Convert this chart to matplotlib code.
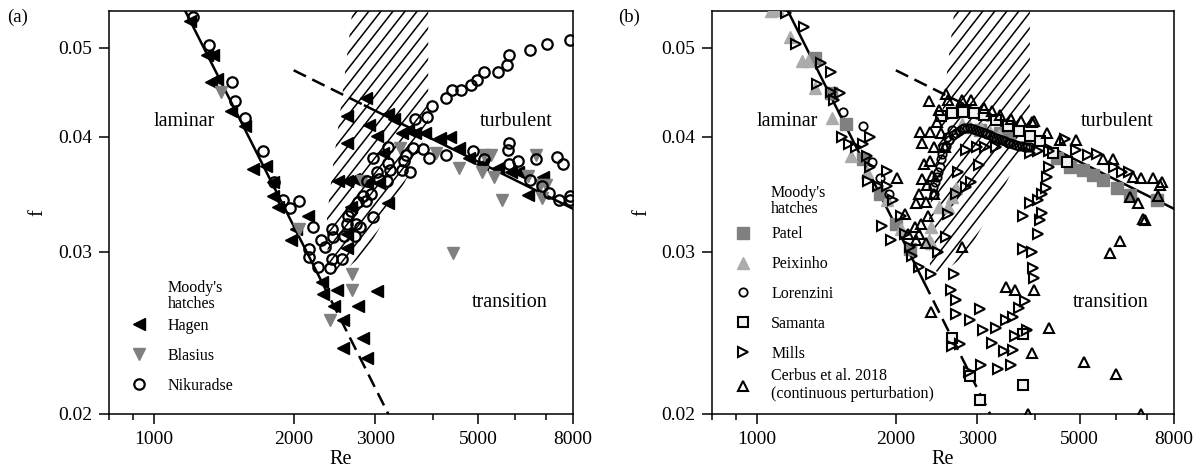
import numpy as np
import matplotlib.pyplot as plt
from matplotlib.patches import Polygon
from matplotlib.ticker import FixedLocator, FixedFormatter, NullFormatter, NullLocator

plt.rcParams['font.family'] = ['Liberation Serif', 'DejaVu Serif']

# ---- reference lines (laminar 64/Re and Blasius), end points only ----
lam_solid_re = [1100, 2300]
lam_solid_f = [0.05818, 0.02783]
lam_dash_re = [2300, 3300]
lam_dash_f = [0.02783, 0.01939]
bla_dash_re = [2000, 2850]
bla_dash_f = [0.04725, 0.04325]
bla_solid_re = [2850, 8200]
bla_solid_f = [0.04325, 0.03321]

# Moody's hatched region outline
hatch_re = [2690, 3900, 3900, 3650, 3300, 2850, 2500, 2370, 2360, 2430, 2540, 2690]
hatch_f = [0.0560, 0.0560, 0.0410, 0.0375, 0.0340, 0.0299, 0.0283, 0.0290, 0.0327, 0.0371, 0.0439, 0.0560]

# ---- panel (a) ----
hagen_re = [1198, 1300, 1340, 1324, 1365, 1465, 1571, 1632, 1744, 1802, 1802, 1847, 1973,
            2023, 2149, 2297, 2310, 2440, 2479, 2559, 2752, 2559, 2819, 2873, 3025,
            2600, 2600, 2858, 2488, 2600, 2700, 2664, 2600, 2600, 2912, 3025, 3112, 3200,
            3296, 3422, 3523, 3660, 3836, 3200, 3052, 2885,
            4139, 4340, 4550, 4772, 5100, 5502, 5880, 6100, 6400, 6910]
hagen_f = [0.0535, 0.0491, 0.0491, 0.0459, 0.0462, 0.0427, 0.0411, 0.0369, 0.0372, 0.0357,
           0.0345, 0.0336, 0.0309, 0.0318, 0.0328, 0.0278, 0.0270, 0.0262, 0.0273, 0.0253,
           0.0262, 0.0236, 0.0242, 0.0230, 0.0272,
           0.0421, 0.0394, 0.0441, 0.0358, 0.0358, 0.0360, 0.0336, 0.0314, 0.0303, 0.0412,
           0.0401, 0.0384, 0.0424, 0.0418, 0.0404, 0.0407, 0.0404, 0.0404, 0.0339, 0.0356,
           0.0356,
           0.0399, 0.0400, 0.0389, 0.0379, 0.0374, 0.0370, 0.0366, 0.0366, 0.0346, 0.0362]

blasius_re = [1397, 2050, 2395, 2675, 2675, 2805, 3390, 4060, 4420, 4550, 5150, 5330, 5100,
              5410, 5620, 6400, 6653, 6785, 6850, 7000]
blasius_f = [0.0447, 0.0318, 0.0253, 0.0284, 0.0273, 0.0358, 0.0389, 0.0384, 0.0299, 0.0370,
             0.0382, 0.0382, 0.0366, 0.0362, 0.0342, 0.0363, 0.0382, 0.0355, 0.0343, 0.0355]

nik_re = [1216, 1312, 1470, 1498, 1571, 1715, 1812, 1900, 1966, 2050, 2203,
          2161, 2161, 2254, 2290, 2341, 2395, 2415, 2415, 2436, 2540, 2574, 2600, 2624, 2664,
          2715, 2725, 2752, 2780, 2819, 2858, 2885, 2940, 2968, 2968, 3025, 3052, 3172, 3200,
          3200, 3233, 3422, 3456, 3490, 3555, 3623, 3660, 3800, 3873, 3910, 3970,
          4258, 4380, 4596, 4820, 4960, 5150, 5502, 5770, 5824, 6465, 7015, 7890,
          4258, 4863, 5150, 5824, 5800, 5824, 6100, 6465, 6653, 6850, 7115, 7390, 7600, 7460,
          7890, 7890]
nik_f = [0.0540, 0.0503, 0.0459, 0.0437, 0.0419, 0.0386, 0.0357, 0.0342, 0.0335, 0.0341, 0.0319,
         0.0302, 0.0296, 0.0289, 0.0309, 0.0304, 0.0288, 0.0295, 0.0318, 0.0311, 0.0295, 0.0312,
         0.0322, 0.0328, 0.0332, 0.0312, 0.0322, 0.0340, 0.0319, 0.0345, 0.0341, 0.0358, 0.0347,
         0.0379, 0.0327, 0.0366, 0.0360, 0.0358, 0.0390, 0.0375, 0.0368, 0.0368, 0.0377, 0.0382,
         0.0366, 0.0389, 0.0418, 0.0388, 0.0420, 0.0379, 0.0432,
         0.0441, 0.0450, 0.0450, 0.0455, 0.0461, 0.0471, 0.0471, 0.0479, 0.0491, 0.0497, 0.0504,
         0.0510,
         0.0382, 0.0386, 0.0378, 0.0374, 0.0387, 0.0394, 0.0377, 0.0359, 0.0378, 0.0354, 0.0348,
         0.0380, 0.0374, 0.0342, 0.0345, 0.0342]

# ---- panel (b) ----
patel_re = [1337, 1450, 1560, 1700, 1850, 2000, 2150, 3041, 3361, 3521, 4457, 4765, 5082,
            5343, 5617, 6023, 6426, 7350]
patel_f = [0.0487, 0.0446, 0.0413, 0.0378, 0.0347, 0.0322, 0.0302, 0.0407, 0.0404, 0.0400,
           0.0379, 0.0371, 0.0368, 0.0364, 0.0359, 0.0352, 0.0346, 0.0342]

peix_re = [1075, 1110, 1182, 1251, 1290, 1337, 1457, 1601, 1728, 1918, 2050, 2364, 2385, 2479,
           2600, 2650, 2700, 2780, 2385, 2900, 3050, 3200, 3350]
peix_f = [0.0548, 0.0550, 0.0514, 0.0483, 0.0483, 0.0452, 0.0419, 0.0381, 0.0366, 0.0342,
          0.0318, 0.0309, 0.0319, 0.0336, 0.0336, 0.0344, 0.0352, 0.0413, 0.0307, 0.0410,
          0.0409, 0.0405, 0.0402]

lor_re = [1536, 1695, 1778, 1847, 1936,
          2404, 2423, 2436, 2450, 2472, 2490, 2500, 2520, 2525, 2565, 2577, 2610, 2650, 2665,
          2700, 2740, 2777, 2815, 2858, 2900, 2940, 2980, 3025, 3070, 3112, 3155, 3200, 3250,
          3296, 3340, 3390, 3440, 3490, 3540, 3589, 3640, 3695, 3750, 3800, 3850, 3910,
          2577, 2709, 2847, 2993, 3146, 3306, 3476, 3652]
lor_f = [0.0426, 0.0411, 0.0376, 0.0361, 0.0347,
         0.0353, 0.0347, 0.0357, 0.0362, 0.0366, 0.0371, 0.0378, 0.0383, 0.0390, 0.0391, 0.0400,
         0.0397, 0.0407, 0.0402, 0.0404, 0.0406, 0.0408, 0.0409, 0.0409, 0.0409, 0.0408, 0.0407,
         0.0406, 0.0405, 0.0404, 0.0403, 0.0402, 0.0400, 0.0399, 0.0398, 0.0397, 0.0396, 0.0394,
         0.0394, 0.0393, 0.0392, 0.0391, 0.0391, 0.0390, 0.0390, 0.0390,
         0.0424, 0.0426, 0.0426, 0.0424, 0.0421, 0.0417, 0.0412, 0.0407]

sam_re = [2500, 2650, 2800, 2950, 3100, 3300, 3500, 3700, 3900, 4100, 4380, 4690,
          2642, 2890, 3035, 3775, 3775]
sam_f = [0.0421, 0.0425, 0.0426, 0.0425, 0.0422, 0.0417, 0.0411, 0.0406, 0.0401, 0.0396,
         0.0384, 0.0376, 0.0242, 0.0220, 0.0207, 0.0244, 0.0215]

mills_re = [1159, 1216, 1263, 1375, 1450, 1350, 1445, 1512, 1470, 1527, 1586, 1638, 1695, 1761,
            1728, 1761, 1744, 1829, 1918, 1918, 1973, 1864, 1955, 2050, 2089, 2149, 2170, 2245,
            2386, 2465,
            2675, 2634, 2700, 2700, 2645, 2752, 2896, 3042, 3083, 3296, 3233, 3422, 3589, 3623,
            3456, 3589, 3695, 3800, 3836, 2885, 3052, 3330, 3555,
            3764, 3950, 3970, 3990, 4060, 4100, 4139, 4060, 3764, 3910, 4139, 4218, 4258, 4298,
            2574, 2600, 2700, 2831, 2912, 2725, 2831, 2997, 3112, 3296, 3025, 3910, 4060,
            4298, 4640, 4910, 5200, 5450, 5935, 6166, 6400]
mills_f = [0.0545, 0.0505, 0.0527, 0.0481, 0.0470, 0.0457, 0.0448, 0.0446, 0.0439, 0.0400,
           0.0393, 0.0390, 0.0393, 0.0400, 0.0381, 0.0371, 0.0358, 0.0354, 0.0367, 0.0354,
           0.0342, 0.0320, 0.0309, 0.0328, 0.0314, 0.0304, 0.0297, 0.0289, 0.0284, 0.0300,
           0.0284, 0.0273, 0.0266, 0.0257, 0.0237, 0.0238, 0.0253, 0.0260, 0.0247, 0.0248,
           0.0239, 0.0234, 0.0235, 0.0243, 0.0253, 0.0255, 0.0261, 0.0265, 0.0247, 0.0222,
           0.0226, 0.0224, 0.0226,
           0.0302, 0.0300, 0.0288, 0.0281, 0.0314, 0.0325, 0.0331, 0.0342, 0.0328, 0.0339,
           0.0347, 0.0352, 0.0362, 0.0371,
           0.0311, 0.0330, 0.0347, 0.0353, 0.0357, 0.0366, 0.0387, 0.0390, 0.0390, 0.0390,
           0.0373, 0.0384, 0.0386,
           0.0386, 0.0398, 0.0387, 0.0382, 0.0383, 0.0371, 0.0366, 0.0366]

cerbus_re = [2011,
             2364, 2254, 2375, 2275, 2415, 2297, 2375, 2275, 2395, 2341, 2423, 2245, 2330, 2216,
             2350, 2265, 2195, 2240, 2320, 2216, 2129, 2089, 2479, 2455, 2502, 2550,
             2574, 2600, 2780, 2912, 3100, 3233, 3359, 3550, 3730, 3937, 3990, 4240, 4534, 4920,
             2385, 2780, 3456, 3623, 3990, 4298, 3950, 3873, 5100, 5996, 5824, 6100, 6910, 6785,
             5620, 5900, 6530, 6780, 6426, 6690, 6850, 7450, 7190, 7390, 7530]
cerbus_f = [0.0361,
            0.0437, 0.0405, 0.0405, 0.0394, 0.0390, 0.0374, 0.0377, 0.0360, 0.0363, 0.0355,
            0.0347, 0.0347, 0.0340, 0.0339, 0.0328, 0.0322, 0.0319, 0.0314, 0.0307, 0.0309,
            0.0314, 0.0330, 0.0428, 0.0415, 0.0404, 0.0390,
            0.0445, 0.0439, 0.0439, 0.0439, 0.0430, 0.0427, 0.0422, 0.0418, 0.0416, 0.0415,
            0.0416, 0.0404, 0.0397, 0.0397,
            0.0258, 0.0304, 0.0275, 0.0273, 0.0273, 0.0248, 0.0233, 0.0200, 0.0228, 0.0221,
            0.0299, 0.0308, 0.0325, 0.0200,
            0.0378, 0.0378, 0.0362, 0.0361, 0.0344, 0.0339, 0.0326, 0.0355, 0.0361, 0.0345,
            0.0357]

x_major = [1000, 2000, 3000, 5000, 8000]
x_minor = [800, 900, 4000, 6000, 7000]
y_major = [0.02, 0.03, 0.04, 0.05]

leg_kw = dict(loc='upper left', frameon=False, fontsize=11.5, handlelength=1.0,
              handletextpad=1.3, borderpad=0, borderaxespad=0, labelspacing=0.87)


def setup_axes(ax):
    ax.set_xscale('log')
    ax.set_yscale('log')
    ax.set_xlim(800, 8000)
    ax.set_ylim(0.02, 0.0548)
    ax.xaxis.set_major_locator(FixedLocator(x_major))
    ax.xaxis.set_major_formatter(FixedFormatter([str(v) for v in x_major]))
    ax.xaxis.set_minor_locator(FixedLocator(x_minor))
    ax.xaxis.set_minor_formatter(NullFormatter())
    ax.yaxis.set_major_locator(FixedLocator(y_major))
    ax.yaxis.set_major_formatter(FixedFormatter(['%.2f' % v for v in y_major]))
    ax.yaxis.set_minor_locator(NullLocator())
    ax.tick_params(which='major', direction='out', length=7, width=1.1, labelsize=14, pad=5)
    ax.tick_params(which='minor', direction='out', length=4, width=1.1)
    for s in ax.spines.values():
        s.set_linewidth(1.1)
    ax.set_xlabel('Re', fontsize=14.5)
    ax.set_ylabel('f', fontsize=14.5)
    ax.xaxis.set_label_coords(0.5, -0.09)
    ax.yaxis.set_label_coords(-0.132, 0.5)

    # Moody's hatched region
    poly = Polygon(np.column_stack([hatch_re, hatch_f]), closed=True, fill=False,
                   edgecolor='none', transform=ax.transData)
    ax.add_patch(poly)
    for x0 in np.arange(-1.6, 1.2, 0.026):
        ln, = ax.plot([x0, x0 + 1.0], [0, 1.474], transform=ax.transAxes,
                      color='black', lw=1.1, zorder=1)
        ln.set_clip_path(poly)

    # laminar and turbulent lines
    ax.plot(lam_solid_re, lam_solid_f, color='black', lw=1.8, zorder=2)
    ax.plot(lam_dash_re, lam_dash_f, color='black', lw=1.8, dashes=(5.5, 2.8), zorder=2)
    ax.plot(bla_dash_re, bla_dash_f, color='black', lw=1.8, dashes=(5.5, 2.8), zorder=2)
    ax.plot(bla_solid_re, bla_solid_f, color='black', lw=1.8, zorder=2)

    ax.text(1165, 0.0416, 'laminar', fontsize=14.5, ha='center', va='center')
    ax.text(6040, 0.0416, 'turbulent', fontsize=14.5, ha='center', va='center')
    ax.text(5850, 0.0264, 'transition', fontsize=14.5, ha='center', va='center')


fig = plt.figure(figsize=(12, 4.74), dpi=100)
ax_a = fig.add_axes([109 / 1200, 60 / 474, 464 / 1200, 403 / 474])
ax_b = fig.add_axes([712 / 1200, 60 / 474, 462 / 1200, 403 / 474])

# ---- panel (a) ----
setup_axes(ax_a)
h1, = ax_a.plot(hagen_re, hagen_f, ls='none', marker='<', ms=9, color='black',
                label='Hagen', zorder=3)
h2, = ax_a.plot(blasius_re, blasius_f, ls='none', marker='v', ms=9, color='#808080',
                label='Blasius', zorder=3)
h3, = ax_a.plot(nik_re, nik_f, ls='none', marker='o', ms=7.5, mfc='none', mec='black',
                mew=1.6, label='Nikuradse', zorder=3)
ax_a.text(0.127, 0.293, "Moody's\nhatches", transform=ax_a.transAxes, fontsize=11.5,
          ha='left', va='center', linespacing=1.0)
ax_a.legend(handles=[h1, h2, h3], bbox_to_anchor=(0.0474, 0.238), **leg_kw)

# ---- panel (b) ----
setup_axes(ax_b)
g1, = ax_b.plot(patel_re, patel_f, ls='none', marker='s', ms=8, color='#808080',
                label='Patel', zorder=3)
g2, = ax_b.plot(peix_re, peix_f, ls='none', marker='^', ms=9, color='#ababab',
                label='Peixinho', zorder=3)
g3, = ax_b.plot(lor_re, lor_f, ls='none', marker='o', ms=6, mfc='none', mec='black',
                mew=1.3, label='Lorenzini', zorder=4)
g4, = ax_b.plot(sam_re, sam_f, ls='none', marker='s', ms=7, mfc='#f2f2f2', mec='black',
                mew=1.5, label='Samanta', zorder=4)
g5, = ax_b.plot(mills_re, mills_f, ls='none', marker='>', ms=7.5, mfc='none', mec='black',
                mew=1.5, label='Mills', zorder=5)
g6, = ax_b.plot(cerbus_re, cerbus_f, ls='none', marker='^', ms=7.5, mfc='none', mec='black',
                mew=1.5, label='Cerbus et al. 2018\n(continuous perturbation)', zorder=5)
ax_b.text(0.127, 0.529, "Moody's\nhatches", transform=ax_b.transAxes, fontsize=11.5,
          ha='left', va='center', linespacing=1.0)
leg_b = ax_b.legend(handles=[g1, g2, g3, g4, g5], bbox_to_anchor=(0.049, 0.466), **leg_kw)
ax_b.add_artist(leg_b)
ax_b.legend(handles=[g6], bbox_to_anchor=(0.049, 0.114), **leg_kw)

fig.text(18 / 1200, 1 - 17 / 474, '(a)', fontsize=13.5, ha='center', va='center')
fig.text(629 / 1200, 1 - 17 / 474, '(b)', fontsize=13.5, ha='center', va='center')

fig.savefig('out.png', dpi=100)
